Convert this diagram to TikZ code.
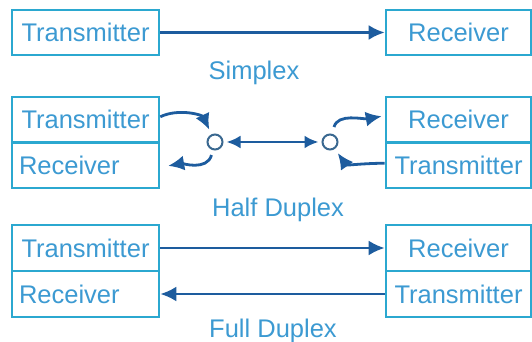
\documentclass[tikz,border=0pt]{standalone}
\usepackage{fontspec}
\setmainfont{Liberation Sans}
\usetikzlibrary{arrows.meta}
\definecolor{boxc}{HTML}{2BA8D0}
\definecolor{txtc}{HTML}{3C9AD2}
\definecolor{arrc}{HTML}{1D5C9E}
\definecolor{portc}{HTML}{3A6890}
\tikzset{
  cell/.style={draw=boxc, line width=2.6pt, minimum height=45.5pt, inner sep=0pt,
    text=txtc, font=\fontsize{25.5}{30}\selectfont},
  lcell/.style={cell, minimum width=147pt},
  rcell/.style={cell, minimum width=145pt},
  lefttext/.style={text width=133pt, align=left},
  lab/.style={text=txtc, font=\fontsize{25.5}{30}\selectfont, anchor=base, inner sep=0pt},
  arr/.style={draw=arrc, line width=2.8pt, -{Latex[length=16pt,width=15pt]}},
  darr/.style={draw=arrc, line width=2.8pt, {Latex[length=14pt,width=13pt]}-{Latex[length=14pt,width=13pt]}},
  port/.style={circle, draw=portc, line width=2pt, fill=white, minimum size=15pt, inner sep=0pt}
}
\begin{document}
\begin{tikzpicture}[x=1pt,y=1pt]
\fill[white] (0,0) rectangle (532,342);
\useasboundingbox (0,0) rectangle (532,342);
% Simplex
\node[lcell, minimum height=45pt] (sT) at (85.5,309.5) {Transmitter};
\node[rcell, minimum height=45pt] (sR) at (458.5,309.5) {Receiver};
\draw[arr] (sT) -- (sR);
\node[lab] (lS) at (254,262) {Simplex};
% Half duplex
\node[lcell] (hLT) at (85.5,222.25) {Transmitter};
\node[lcell, lefttext] (hLR) at (85.5,176.75) {Receiver};
\node[rcell] (hRR) at (458.5,222.25) {Receiver};
\node[rcell] (hRT) at (458.5,176.75) {Transmitter};
\node[port] (cL) at (215,200) {};
\node[port] (cR) at (330,200) {};
\draw[darr, shorten <=3pt, shorten >=3pt] (cL) -- (cR);
\draw[arr, shorten >=5pt] ([yshift=3pt]hLT.east) to[out=25,in=115] (cL);
\draw[arr, shorten <=5pt, shorten >=8pt] (cL) to[out=-105,in=10] ([yshift=-2pt]hLR.east);
\draw[arr, shorten <=7pt, shorten >=3pt] (cR) to[out=75,in=190] ([yshift=4pt]hRR.west);
\draw[arr, shorten >=5pt] ([yshift=2pt]hRT.west) to[out=180,in=-55] (cR);
\node[lab] (lH) at (278,125) {Half Duplex};
% Full duplex
\node[lcell, minimum height=46pt] (fLT) at (85.5,94) {Transmitter};
\node[lcell, lefttext, minimum height=46pt] (fLR) at (85.5,48) {Receiver};
\node[rcell, minimum height=46pt] (fRR) at (458.5,94) {Receiver};
\node[rcell, minimum height=46pt] (fRT) at (458.5,48) {Transmitter};
\draw[arr] (fLT) -- (fRR);
\draw[arr] (fRT) -- (fLR);
\node[lab] (lF) at (273,4) {Full Duplex};
\end{tikzpicture}
\end{document}
